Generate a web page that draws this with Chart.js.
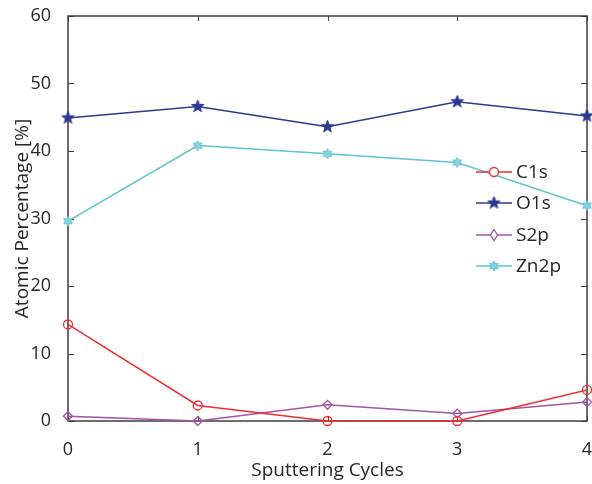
<!DOCTYPE html>
<html>
<head>
<meta charset="utf-8">
<script src="https://cdn.jsdelivr.net/npm/chart.js@4/dist/chart.umd.min.js"></script>
<style>
  html, body { margin: 0; padding: 0; background: #fff; }
  #wrap { width: 592px; height: 484px; }
</style>
</head>
<body>
<div id="wrap"><canvas id="graphCanvas" width="592" height="484"></canvas></div>
<script>
// data
var cycles = ['0', '1', '2', '3', '4'];
var c1s  = [14.3, 2.3, 0, 0, 4.6];
var o1s  = [44.9, 46.6, 43.6, 47.3, 45.2];
var s2p  = [0.7, 0, 2.4, 1.1, 2.8];
var zn2p = [29.6, 40.8, 39.6, 38.3, 31.9];
var yTicks = [0, 10, 20, 30, 40, 50, 60];

var FONT = "'Open Sans', 'Noto Sans', sans-serif";
var TXT = '#262626';
var AXIS = '#3c3c3c';

// marker images (filled stars)
function starImage(points, outer, inner, fill, stroke)
{
	var size = outer * 2 + 2;
	var c = document.createElement('canvas');
	c.width = size; c.height = size;
	var g = c.getContext('2d');
	g.translate(size / 2, size / 2);
	g.beginPath();
	for (var i = 0; i < points * 2; i++) {
		var r = (i % 2 == 0) ? outer : inner;
		var a = -Math.PI / 2 + i * Math.PI / points;
		if (i == 0) g.moveTo(r * Math.cos(a), r * Math.sin(a));
		else g.lineTo(r * Math.cos(a), r * Math.sin(a));
	}
	g.closePath();
	g.fillStyle = fill;
	g.fill();
	g.strokeStyle = stroke;
	g.lineWidth = 1;
	g.stroke();
	return c;
}

var o1sStar = starImage(5, 6.5, 2.7, '#2b3990', '#2b3990');
var znStar = starImage(6, 5, 2.7, '#86d3dc', '#5ec4d0');

// pin the plot box to where it sits in the reference
var pinArea = {
	id: 'pinArea',
	afterLayout: function (chart) {
		var a = chart.chartArea;
		a.right = 587;
		a.width = a.right - a.left;
		var xs = chart.scales.x;
		xs.right = 587;
		xs.width = xs.right - xs.left;
		xs.configure();
	}
};

var frame = {
	id: 'frame',
	beforeDatasetsDraw: function (chart) {
		var ctx = chart.ctx, a = chart.chartArea;
		var xs = chart.scales.x, ys = chart.scales.y;
		ctx.save();
		ctx.strokeStyle = AXIS;
		ctx.lineWidth = 1.5;
		ctx.strokeRect(a.left, a.top, a.right - a.left, a.bottom - a.top);
		ctx.lineWidth = 1;
		ctx.beginPath();
		for (var i = 0; i < yTicks.length; i++) {
			var py = Math.round(ys.getPixelForValue(yTicks[i])) + 0.5;
			ctx.moveTo(a.left, py); ctx.lineTo(a.left + 6, py);
			ctx.moveTo(a.right, py); ctx.lineTo(a.right - 6, py);
		}
		for (var j = 0; j < cycles.length; j++) {
			var px = Math.round(xs.getPixelForValue(j)) + 0.5;
			ctx.moveTo(px, a.top); ctx.lineTo(px, a.top + 5);
			ctx.moveTo(px, a.bottom); ctx.lineTo(px, a.bottom - 5);
		}
		ctx.stroke();
		ctx.restore();
	}
};

function drawMarker(ctx, ds, x, y)
{
	var st = ds.pointStyle;
	if (st instanceof HTMLCanvasElement) {
		ctx.drawImage(st, x - st.width / 2, y - st.height / 2);
		return;
	}
	ctx.beginPath();
	ctx.strokeStyle = ds.pointBorderColor;
	ctx.lineWidth = ds.pointBorderWidth;
	if (st == 'circle') {
		ctx.arc(x, y, ds.pointRadius, 0, Math.PI * 2);
	} else {
		ctx.moveTo(x, y - 5.5); ctx.lineTo(x + 3.5, y);
		ctx.lineTo(x, y + 5.5); ctx.lineTo(x - 3.5, y);
		ctx.closePath();
	}
	ctx.fillStyle = '#fff';
	ctx.fill();
	ctx.stroke();
}

var legendInside = {
	id: 'legendInside',
	afterDraw: function (chart) {
		var ctx = chart.ctx;
		var rows = [172, 203, 235, 266];
		ctx.save();
		ctx.font = '19px ' + FONT;
		ctx.textBaseline = 'middle';
		chart.data.datasets.forEach(function (ds, i) {
			var y = rows[i];
			ctx.strokeStyle = ds.borderColor;
			ctx.lineWidth = 1.5;
			ctx.beginPath();
			ctx.moveTo(476, y); ctx.lineTo(512, y);
			ctx.stroke();
			drawMarker(ctx, ds, 494, y);
			ctx.fillStyle = TXT;
			ctx.fillText(ds.label, 516, y + 1);
		});
		ctx.restore();
	}
};

var chartdata = {
	labels: cycles,
	datasets: [
		{
			label: 'C1s',
			data: c1s,
			borderColor: '#ee2f2f',
			borderWidth: 1.5,
			pointStyle: 'circle',
			pointRadius: 4.5,
			pointBorderColor: '#ee2f2f',
			pointBackgroundColor: 'rgba(255,255,255,0)',
			pointBorderWidth: 1.3,
			clip: false
		},
		{
			label: 'O1s',
			data: o1s,
			borderColor: '#2b3990',
			borderWidth: 1.5,
			pointStyle: o1sStar,
			pointRadius: 7,
			clip: false
		},
		{
			label: 'S2p',
			data: s2p,
			borderColor: '#a352a8',
			borderWidth: 1.5,
			pointStyle: 'rectRot',
			pointRadius: 4.5,
			pointBorderColor: '#a352a8',
			pointBackgroundColor: 'rgba(255,255,255,0)',
			pointBorderWidth: 1.3,
			clip: false
		},
		{
			label: 'Zn2p',
			data: zn2p,
			borderColor: '#5ec4d0',
			borderWidth: 1.5,
			pointStyle: znStar,
			pointRadius: 6,
			clip: false
		}
	]
};

var graph = new Chart(document.getElementById('graphCanvas'), {
	type: 'line',
	data: chartdata,
	options: {
		responsive: false,
		animation: false,
		layout: { padding: { top: 16, right: 5, left: 0, bottom: 0 } },
		plugins: {
			legend: { display: false },
			tooltip: { enabled: false }
		},
		scales: {
			x: {
				type: 'category',
				offset: false,
				grid: { display: false },
				border: { display: false },
				ticks: { color: TXT, font: { family: FONT, size: 18 }, padding: 10, maxRotation: 0 },
				title: { display: true, text: 'Sputtering Cycles', color: TXT,
					font: { family: FONT, size: 19 }, padding: { top: 0, bottom: 2 } },
				afterFit: function (s) { s.height = 63; }
			},
			y: {
				min: 0,
				max: 60,
				grid: { display: false },
				border: { display: false },
				ticks: { stepSize: 10, color: TXT, font: { family: FONT, size: 18 }, padding: 9 },
				title: { display: true, text: 'Atomic Percentage [%]', color: TXT,
					font: { family: FONT, size: 19 }, padding: { top: 11, bottom: 0 } },
				afterFit: function (s) { s.width = 68; s.paddingTop = 0; s.paddingBottom = 0; }
			}
		}
	},
	plugins: [pinArea, frame, legendInside]
});
</script>
</body>
</html>
